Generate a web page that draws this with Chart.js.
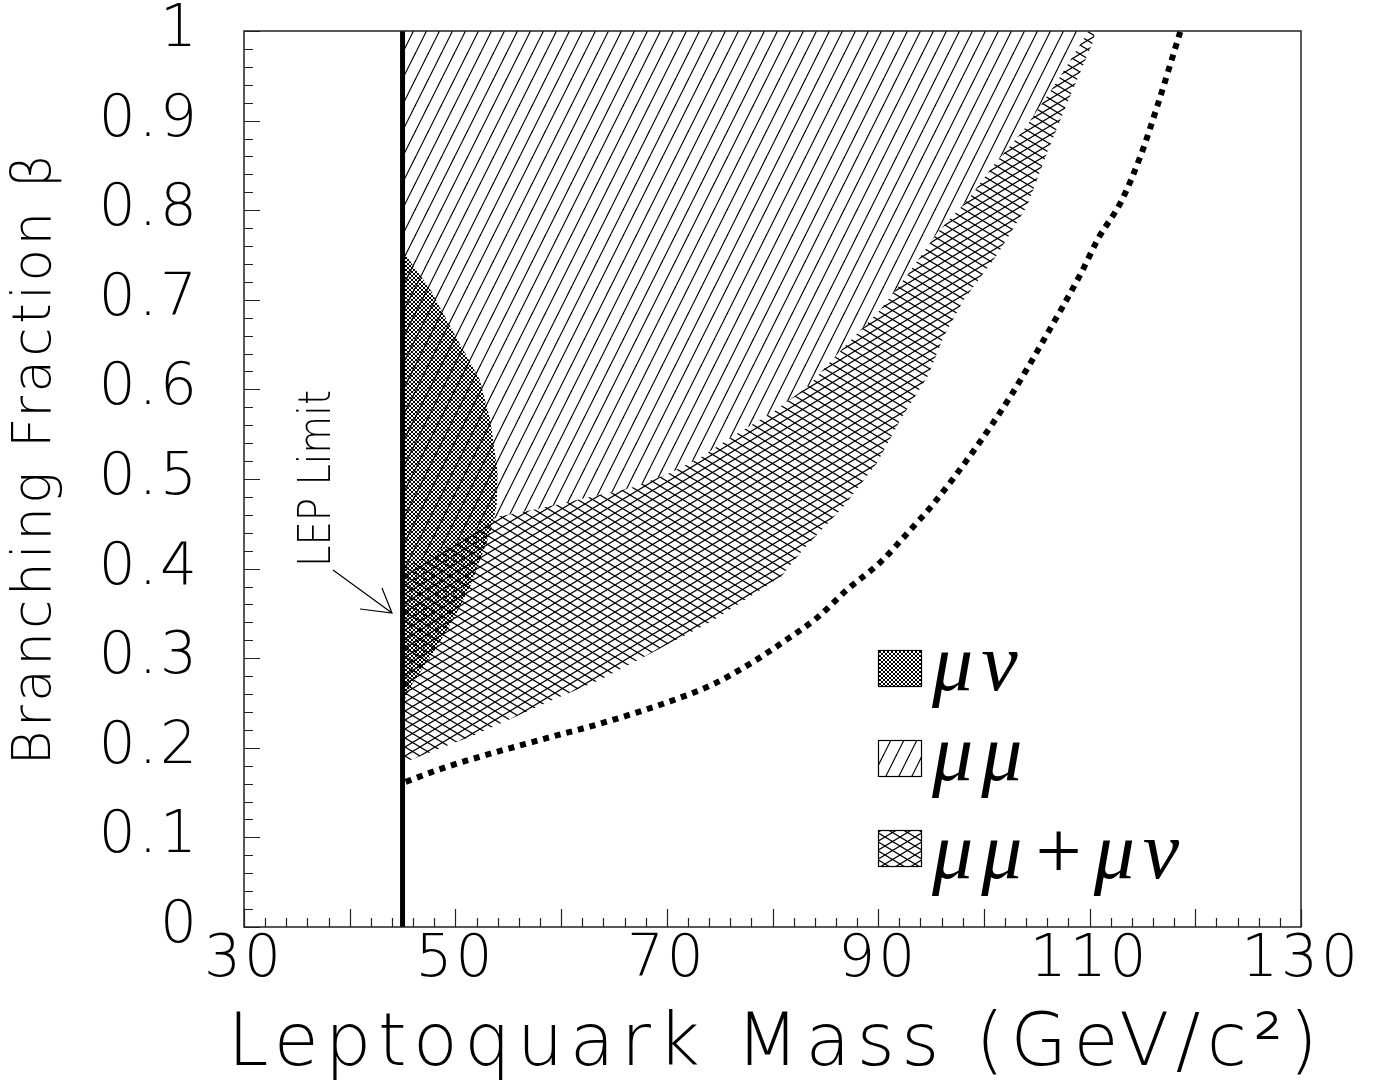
<!DOCTYPE html>
<html>
<head>
<meta charset="utf-8">
<script src="https://cdn.jsdelivr.net/npm/chart.js@4.4.1/dist/chart.umd.min.js"></script>
<style>
  html, body { margin: 0; padding: 0; background: #fff; }
  #wrap { width: 1390px; height: 1086px; }
</style>
</head>
<body>
<div id="wrap"><canvas id="canvas" width="1390" height="1086"></canvas></div>
<script>
// LEP lower mass limit (GeV/c^2)
var lepMass = 45;

// mu-nu excluded region, outline (clockwise from top)
var muNuMass = [45, 46.2, 47.6, 49.8, 52.3, 53.3, 54.0, 53.9, 53.3, 52.6, 51.4, 49.8, 47.9, 46.0, 45.2, 45];
var muNuBeta = [0.755, 0.735, 0.712, 0.664, 0.611, 0.566, 0.507, 0.47, 0.44, 0.418, 0.38, 0.343, 0.306, 0.273, 0.254, 0.25];

// lower edge of the mu-mu region (runs up to beta = 1)
var muMuMass = [45, 50, 54, 58.3, 62, 66.6, 70, 73.2, 76, 80.1, 83.5, 85.7, 87.9, 90.2, 92.9, 95.6, 98.5, 100.9, 103.8, 107, 109.9];
var muMuBeta = [0.40, 0.43, 0.458, 0.468, 0.478, 0.49, 0.505, 0.524, 0.546, 0.575, 0.605, 0.634, 0.661, 0.689, 0.73, 0.775, 0.812, 0.85, 0.89, 0.945, 1.0];

// outer edge of the combined mu-mu + mu-nu region (from top down)
var comboMass = [110.5, 110.4, 107.9, 106, 104.1, 101.3, 98.1, 96.2, 94.7, 92.1, 89.9, 86.7, 82.8, 80.8, 74.1, 63.7, 59.3, 52, 45];
var comboBeta = [1.0, 0.99, 0.92, 0.865, 0.805, 0.751, 0.70, 0.659, 0.615, 0.566, 0.518, 0.469, 0.42, 0.391, 0.34, 0.276, 0.254, 0.215, 0.183];

// dotted curve
var limitMass = [45.3, 48.5, 52.3, 58.7, 64.0, 70.1, 74.4, 77.9, 81.0, 84.3, 87.1, 90.2, 92.8, 95.2, 99, 102.5, 105.7, 109.2, 110.8, 113, 114.8, 116.4, 118.6];
var limitBeta = [0.162, 0.176, 0.19, 0.211, 0.228, 0.251, 0.271, 0.294, 0.318, 0.346, 0.377, 0.407, 0.44, 0.472, 0.531, 0.592, 0.656, 0.73, 0.768, 0.81, 0.86, 0.916, 1.0];

var legendLabels = ['\u03bc\u03bd', '\u03bc\u03bc', '\u03bc\u03bc+\u03bc\u03bd'];
var xTitle = 'Leptoquark Mass (GeV/c\u00b2)';
var yTitle = 'Branching Fraction \u03b2';

var thinFont = '"DejaVu Sans"';

function pts(xs, ys) {
    var out = [];
    for (var i = 0; i < xs.length; i++) out.push({x: xs[i], y: ys[i]});
    return out;
}

function makePattern(w, h, draw) {
    var c = document.createElement('canvas');
    c.width = w; c.height = h;
    var g = c.getContext('2d');
    g.strokeStyle = '#000';
    g.lineWidth = 1;
    draw(g, w, h);
    return g.createPattern(c, 'repeat');
}

// single hatch for mu-mu
var hatchMuMu = makePattern(13, 26, function(g, w, h) {
    g.lineWidth = 1.2;
    for (var k = -1; k <= 1; k++) {
        g.beginPath();
        g.moveTo(k * w, h);
        g.lineTo(k * w + w, 0);
        g.stroke();
    }
});
// wide cross hatch for mu-mu + mu-nu
var hatchCombo = makePattern(15, 9, function(g, w, h) {
    g.lineWidth = 1.2;
    for (var k = -1; k <= 1; k++) {
        g.beginPath();
        g.moveTo(0, k * h); g.lineTo(w, k * h + h);
        g.moveTo(0, k * h + h); g.lineTo(w, k * h);
        g.stroke();
    }
});
// dense cross hatch for mu-nu
var hatchMuNu = makePattern(4, 4, function(g, w, h) {
    for (var k = -1; k <= 1; k++) {
        g.beginPath();
        g.moveTo(k * w, 0); g.lineTo(k * w + w, h);
        g.moveTo(k * w, h); g.lineTo(k * w + w, 0);
        g.stroke();
    }
});

var muMuShape = [{x: lepMass, y: 1}].concat(pts(muMuMass, muMuBeta).reverse());
var comboShape = pts(muMuMass, muMuBeta).concat(pts(comboMass, comboBeta));

var frameAndExtras = {
    id: 'frameAndExtras',
    beforeDraw: function(chart) {
        // ROOT's axis font is wide, spread the tick labels out a little
        chart.ctx.letterSpacing = '3px';
    },
    afterDraw: function(chart) {
        var ctx = chart.ctx;
        var a = chart.chartArea;
        var xs = chart.scales.x, ys = chart.scales.y;
        ctx.letterSpacing = '0px';
        ctx.save();
        ctx.strokeStyle = '#222';
        ctx.lineWidth = 1.5;
        ctx.strokeRect(a.left, a.top, a.right - a.left, a.bottom - a.top);

        ctx.beginPath();
        ctx.lineWidth = 1.2;
        for (var m = 30; m <= 130; m += 2) {
            var px = Math.round(xs.getPixelForValue(m)) + 0.5;
            var len = (m % 10 === 0) ? 18 : 9;
            ctx.moveTo(px, a.bottom);
            ctx.lineTo(px, a.bottom - len);
        }
        for (var b = 0; b <= 50; b++) {
            var py = Math.round(ys.getPixelForValue(b / 50)) + 0.5;
            var l2 = (b % 5 === 0) ? 16 : 9;
            ctx.moveTo(a.left, py);
            ctx.lineTo(a.left + l2, py);
        }
        ctx.stroke();

        // axis titles
        ctx.fillStyle = '#000';
        ctx.textBaseline = 'alphabetic';
        ctx.textAlign = 'center';
        ctx.font = '200 73px ' + thinFont;
        ctx.letterSpacing = '6.5px';
        ctx.fillText(xTitle, 776, 1065);
        ctx.save();
        ctx.translate(50, 458);
        ctx.rotate(-Math.PI / 2);
        ctx.font = '200 53px ' + thinFont;
        ctx.letterSpacing = '3.5px';
        ctx.fillText(yTitle, 0, 0);
        ctx.restore();
        ctx.letterSpacing = '0px';

        // LEP label and arrow
        ctx.font = '200 45px ' + thinFont;
        ctx.save();
        ctx.translate(330, 478.5);
        ctx.rotate(-Math.PI / 2);
        var tw = ctx.measureText('LEP Limit').width;
        ctx.scale(177 / tw, 1);
        ctx.fillText('LEP Limit', 0, 0);
        ctx.restore();
        ctx.beginPath();
        ctx.lineWidth = 1.2;
        ctx.strokeStyle = '#000';
        ctx.moveTo(333, 570); ctx.lineTo(392, 613);
        ctx.moveTo(360, 609); ctx.lineTo(392, 613); ctx.lineTo(382, 588);
        ctx.stroke();

        // legend
        var fills = [hatchMuNu, hatchMuMu, hatchCombo];
        var boxTop = [650, 740, 830];
        var base = [690, 780, 878];
        ctx.font = 'italic 82px "Liberation Serif"';
        ctx.textAlign = 'left';
        ctx.letterSpacing = '8px';
        for (var i = 0; i < 3; i++) {
            ctx.fillStyle = '#fff';
            ctx.fillRect(878, boxTop[i], 43, 36);
            ctx.fillStyle = fills[i];
            ctx.fillRect(878, boxTop[i], 43, 36);
            ctx.lineWidth = 1.2;
            ctx.strokeStyle = '#000';
            ctx.strokeRect(878.5, boxTop[i] + 0.5, 43, 36);
            ctx.fillStyle = '#000';
            ctx.fillText(legendLabels[i], 932, base[i]);
        }
        ctx.restore();
        ctx.letterSpacing = '0px';
    }
};

window.onload = function() {
    var ctx = document.getElementById('canvas').getContext('2d');
    new Chart(ctx, {
        type: 'scatter',
        data: {
            datasets: [{
                label: 'LEP Limit',
                data: [{x: lepMass, y: 0}, {x: lepMass, y: 1}],
                showLine: true,
                borderColor: '#000',
                borderWidth: 5,
                pointRadius: 0,
                order: 0
            }, {
                label: 'limit',
                data: pts(limitMass, limitBeta),
                showLine: true,
                borderColor: '#000',
                borderWidth: 6,
                borderDash: [6, 6],
                borderCapStyle: 'butt',
                cubicInterpolationMode: 'monotone',
                pointRadius: 0,
                order: 1
            }, {
                label: legendLabels[0],
                data: pts(muNuMass, muNuBeta),
                showLine: true,
                borderWidth: 0,
                backgroundColor: hatchMuNu,
                fill: 'shape',
                pointRadius: 0,
                order: 2
            }, {
                label: legendLabels[2],
                data: comboShape,
                showLine: true,
                borderWidth: 0,
                backgroundColor: hatchCombo,
                fill: 'shape',
                pointRadius: 0,
                order: 3
            }, {
                label: legendLabels[1],
                data: muMuShape,
                showLine: true,
                borderWidth: 0,
                backgroundColor: hatchMuMu,
                fill: 'shape',
                pointRadius: 0,
                order: 4
            }]
        },
        options: {
            responsive: false,
            animation: false,
            devicePixelRatio: 1,
            layout: { padding: { top: 31, right: 89, bottom: 0, left: 0 } },
            plugins: {
                legend: { display: false },
                tooltip: { enabled: false }
            },
            scales: {
                x: {
                    type: 'linear',
                    min: 30,
                    max: 130,
                    grid: { display: false, drawTicks: false },
                    border: { display: false },
                    ticks: {
                        stepSize: 10,
                        autoSkip: false,
                        maxRotation: 0,
                        padding: 5,
                        color: '#000',
                        font: { family: thinFont, size: 58, weight: 200, lineHeight: 1 },
                        callback: function(v) { return ((v - 30) % 20 === 0) ? String(v) : ''; }
                    },
                    afterFit: function(s) {
                        s.height = 159;
                        s.paddingLeft = 0; s.paddingRight = 0;
                    }
                },
                y: {
                    min: 0,
                    max: 1,
                    grid: { display: false, drawTicks: false },
                    border: { display: false },
                    ticks: {
                        stepSize: 0.1,
                        padding: 44,
                        color: '#000',
                        font: { family: thinFont, size: 58, weight: 200, lineHeight: 1 },
                        callback: function(v) { return String(Math.round(v * 10) / 10); }
                    },
                    afterFit: function(s) {
                        s.width = 244;
                        s.paddingTop = 0; s.paddingBottom = 0;
                    }
                }
            }
        },
        plugins: [frameAndExtras]
    });
};
</script>
</body>
</html>
